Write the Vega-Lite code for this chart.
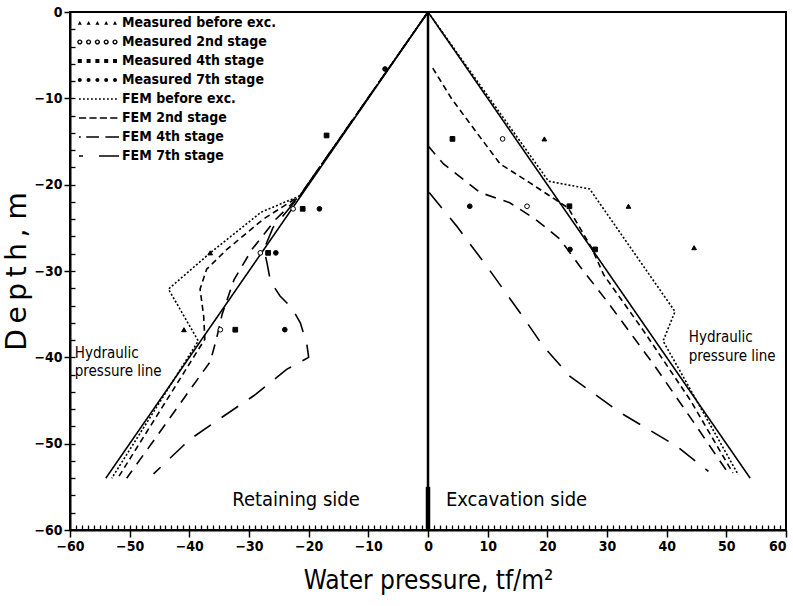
{
  "$schema": "https://vega.github.io/schema/vega-lite/v6.json",
  "width": 716,
  "height": 518,
  "autosize": {"type": "none"},
  "padding": {"left": 70, "top": 12, "right": 7, "bottom": 76},
  "background": "white",
  "config": {
    "font": "DejaVu Sans Condensed, Liberation Sans, sans-serif",
    "view": {"stroke": "black", "strokeWidth": 2},
    "axis": {"domainColor": "black", "domainWidth": 2, "tickColor": "black", "tickWidth": 1.5, "labelColor": "black", "titleColor": "black", "grid": false, "zindex": 1}
  },
  "resolve": {
    "axis": {"x": "independent", "y": "independent"},
    "scale": {"shape": "independent"},
    "legend": {"shape": "independent"}
  },
  "datasets": {
    "fem": [
      {"series": "Hydraulic", "side": "L", "p": 0, "d": 0},
      {"series": "Hydraulic", "side": "L", "p": -54, "d": -54},
      {"series": "Hydraulic", "side": "R", "p": 0, "d": 0},
      {"series": "Hydraulic", "side": "R", "p": 54, "d": -54},

      {"series": "FEM before exc.", "side": "L", "p": 0, "d": 0},
      {"series": "FEM before exc.", "side": "L", "p": -21.5, "d": -21.3},
      {"series": "FEM before exc.", "side": "L", "p": -28, "d": -23.2},
      {"series": "FEM before exc.", "side": "L", "p": -36.5, "d": -27.9},
      {"series": "FEM before exc.", "side": "L", "p": -43.5, "d": -32.1},
      {"series": "FEM before exc.", "side": "L", "p": -38.5, "d": -38.1},
      {"series": "FEM before exc.", "side": "L", "p": -53, "d": -54},

      {"series": "FEM 2nd stage", "side": "L", "p": 0, "d": 0},
      {"series": "FEM 2nd stage", "side": "L", "p": -21.5, "d": -21.3},
      {"series": "FEM 2nd stage", "side": "L", "p": -27.6, "d": -24.0},
      {"series": "FEM 2nd stage", "side": "L", "p": -33.7, "d": -27.5},
      {"series": "FEM 2nd stage", "side": "L", "p": -37.1, "d": -29.8},
      {"series": "FEM 2nd stage", "side": "L", "p": -38.2, "d": -32.1},
      {"series": "FEM 2nd stage", "side": "L", "p": -37.6, "d": -35.2},
      {"series": "FEM 2nd stage", "side": "L", "p": -37.4, "d": -37.9},
      {"series": "FEM 2nd stage", "side": "L", "p": -52, "d": -54},

      {"series": "FEM 4th stage", "side": "L", "p": 0, "d": 0},
      {"series": "FEM 4th stage", "side": "L", "p": -21.5, "d": -21.3},
      {"series": "FEM 4th stage", "side": "L", "p": -25.5, "d": -24},
      {"series": "FEM 4th stage", "side": "L", "p": -29.5, "d": -27.5},
      {"series": "FEM 4th stage", "side": "L", "p": -32.5, "d": -31},
      {"series": "FEM 4th stage", "side": "L", "p": -34.5, "d": -35},
      {"series": "FEM 4th stage", "side": "L", "p": -35.5, "d": -38},
      {"series": "FEM 4th stage", "side": "L", "p": -36.5, "d": -40.5},
      {"series": "FEM 4th stage", "side": "L", "p": -50.5, "d": -54},

      {"series": "FEM 7th stage", "side": "L", "p": 0, "d": 0},
      {"series": "FEM 7th stage", "side": "L", "p": -21.5, "d": -21.3},
      {"series": "FEM 7th stage", "side": "L", "p": -26, "d": -25},
      {"series": "FEM 7th stage", "side": "L", "p": -27.5, "d": -27.5},
      {"series": "FEM 7th stage", "side": "L", "p": -27, "d": -29},
      {"series": "FEM 7th stage", "side": "L", "p": -26.4, "d": -31.2},
      {"series": "FEM 7th stage", "side": "L", "p": -24.8, "d": -32.9},
      {"series": "FEM 7th stage", "side": "L", "p": -22.8, "d": -34.3},
      {"series": "FEM 7th stage", "side": "L", "p": -21.4, "d": -36},
      {"series": "FEM 7th stage", "side": "L", "p": -20.3, "d": -38.5},
      {"series": "FEM 7th stage", "side": "L", "p": -20, "d": -40},
      {"series": "FEM 7th stage", "side": "L", "p": -23.7, "d": -41.4},
      {"series": "FEM 7th stage", "side": "L", "p": -28.9, "d": -44.3},
      {"series": "FEM 7th stage", "side": "L", "p": -35.5, "d": -47.4},
      {"series": "FEM 7th stage", "side": "L", "p": -39.9, "d": -49.5},
      {"series": "FEM 7th stage", "side": "L", "p": -46, "d": -53.5},

      {"series": "FEM before exc.", "side": "R", "p": 0, "d": 0},
      {"series": "FEM before exc.", "side": "R", "p": 20.2, "d": -19.6},
      {"series": "FEM before exc.", "side": "R", "p": 27.1, "d": -20.5},
      {"series": "FEM before exc.", "side": "R", "p": 41.4, "d": -34.7},
      {"series": "FEM before exc.", "side": "R", "p": 39.4, "d": -38.1},
      {"series": "FEM before exc.", "side": "R", "p": 52, "d": -53.6},

      {"series": "FEM 2nd stage", "side": "R", "p": 0.8, "d": -6.5},
      {"series": "FEM 2nd stage", "side": "R", "p": 4, "d": -10.1},
      {"series": "FEM 2nd stage", "side": "R", "p": 8.2, "d": -14},
      {"series": "FEM 2nd stage", "side": "R", "p": 12.1, "d": -17.6},
      {"series": "FEM 2nd stage", "side": "R", "p": 17.1, "d": -19.8},
      {"series": "FEM 2nd stage", "side": "R", "p": 23.5, "d": -22.7},
      {"series": "FEM 2nd stage", "side": "R", "p": 27.4, "d": -27.3},
      {"series": "FEM 2nd stage", "side": "R", "p": 29.5, "d": -30.5},
      {"series": "FEM 2nd stage", "side": "R", "p": 36, "d": -36.8},
      {"series": "FEM 2nd stage", "side": "R", "p": 44, "d": -45},
      {"series": "FEM 2nd stage", "side": "R", "p": 51.1, "d": -53.4},

      {"series": "FEM 4th stage", "side": "R", "p": 0, "d": -15.5},
      {"series": "FEM 4th stage", "side": "R", "p": 2.6, "d": -17.6},
      {"series": "FEM 4th stage", "side": "R", "p": 8.7, "d": -20.9},
      {"series": "FEM 4th stage", "side": "R", "p": 13.7, "d": -22.1},
      {"series": "FEM 4th stage", "side": "R", "p": 18, "d": -24},
      {"series": "FEM 4th stage", "side": "R", "p": 22.1, "d": -26.3},
      {"series": "FEM 4th stage", "side": "R", "p": 25.5, "d": -29.5},
      {"series": "FEM 4th stage", "side": "R", "p": 30, "d": -33.5},
      {"series": "FEM 4th stage", "side": "R", "p": 38, "d": -41},
      {"series": "FEM 4th stage", "side": "R", "p": 45, "d": -48},
      {"series": "FEM 4th stage", "side": "R", "p": 50.2, "d": -53.3},

      {"series": "FEM 7th stage", "side": "R", "p": 0.2, "d": -20.9},
      {"series": "FEM 7th stage", "side": "R", "p": 4.8, "d": -24.8},
      {"series": "FEM 7th stage", "side": "R", "p": 9.8, "d": -29.4},
      {"series": "FEM 7th stage", "side": "R", "p": 15.4, "d": -34.8},
      {"series": "FEM 7th stage", "side": "R", "p": 19.3, "d": -38.7},
      {"series": "FEM 7th stage", "side": "R", "p": 23.8, "d": -42.2},
      {"series": "FEM 7th stage", "side": "R", "p": 32.2, "d": -46.4},
      {"series": "FEM 7th stage", "side": "R", "p": 41.7, "d": -50.3},
      {"series": "FEM 7th stage", "side": "R", "p": 47, "d": -53.2}
    ],
    "meas": [
      {"series": "Measured before exc.", "p": -36.5, "d": -27.9},
      {"series": "Measured before exc.", "p": -40.9, "d": -36.8},
      {"series": "Measured before exc.", "p": 19.5, "d": -14.7},
      {"series": "Measured before exc.", "p": 33.6, "d": -22.5},
      {"series": "Measured before exc.", "p": 44.6, "d": -27.3},
      {"series": "Measured 2nd stage", "p": -22.6, "d": -22.8},
      {"series": "Measured 2nd stage", "p": -28.1, "d": -27.9},
      {"series": "Measured 2nd stage", "p": -34.8, "d": -36.8},
      {"series": "Measured 2nd stage", "p": 12.5, "d": -14.7},
      {"series": "Measured 2nd stage", "p": 16.6, "d": -22.5},
      {"series": "Measured 4th stage", "p": -21.0, "d": -22.8},
      {"series": "Measured 4th stage", "p": -26.8, "d": -27.9},
      {"series": "Measured 4th stage", "p": -32.3, "d": -36.8},
      {"series": "Measured 4th stage", "p": -17.0, "d": -14.3},
      {"series": "Measured 4th stage", "p": 4.1, "d": -14.7},
      {"series": "Measured 4th stage", "p": 23.7, "d": -22.5},
      {"series": "Measured 4th stage", "p": 28.0, "d": -27.5},
      {"series": "Measured 7th stage", "p": -7.2, "d": -6.6},
      {"series": "Measured 7th stage", "p": -18.2, "d": -22.8},
      {"series": "Measured 7th stage", "p": -25.5, "d": -27.9},
      {"series": "Measured 7th stage", "p": -24.0, "d": -36.8},
      {"series": "Measured 7th stage", "p": 7.0, "d": -22.5},
      {"series": "Measured 7th stage", "p": 23.8, "d": -27.5}
    ],
    "keys": [
      {"series": "Measured before exc."},
      {"series": "Measured 2nd stage"},
      {"series": "Measured 4th stage"},
      {"series": "Measured 7th stage"},
      {"series": "FEM before exc."},
      {"series": "FEM 2nd stage"},
      {"series": "FEM 4th stage"},
      {"series": "FEM 7th stage"}
    ],
    "notes": [
      {"label": "Hydraulic", "p": -59.2, "d": -39.5},
      {"label": "pressure line", "p": -59.2, "d": -41.6},
      {"label": "Hydraulic", "p": 43.7, "d": -37.6},
      {"label": "pressure line", "p": 43.7, "d": -39.8}
    ],
    "sides": [
      {"label": "Retaining side", "p": -32.8, "d": -56.5},
      {"label": "Excavation side", "p": 3, "d": -56.5}
    ],
    "wall": [
      {"p": 0, "top": -55, "toe": -60}
    ]
  },
  "layer": [
    {
      "data": {"values": [{"p": 0}]},
      "mark": {"type": "rule", "color": "black", "strokeWidth": 2.5},
      "encoding": {
        "x": {"field": "p", "type": "quantitative", "axis": null}
      }
    },
    {
      "data": {"name": "wall"},
      "mark": {"type": "rule", "color": "black", "strokeWidth": 4.5},
      "encoding": {
        "x": {"field": "p", "type": "quantitative", "axis": null},
        "y": {"field": "top", "type": "quantitative", "axis": null},
        "y2": {"field": "toe"}
      }
    },
    {
      "data": {"name": "fem"},
      "mark": {"type": "line", "color": "black", "strokeWidth": 1.6},
      "encoding": {
        "x": {
          "field": "p",
          "type": "quantitative",
          "scale": {"domain": [-60, 60], "nice": false, "zero": false},
          "axis": {
            "orient": "bottom",
            "title": "Water pressure, tf/m²",
            "titleFont": "DejaVu Sans Condensed, Liberation Sans, sans-serif",
            "titleFontSize": 26,
            "titleFontWeight": "normal",
            "titlePadding": 14,
            "values": [-60, -50, -40, -30, -20, -10, 0, 10, 20, 30, 40, 50, 60],
            "labelFont": "DejaVu Sans Condensed, Liberation Sans, sans-serif",
            "labelFontSize": 14,
            "labelFontWeight": "bold",
            "labelOverlap": false,
            "labelFlush": false,
            "labelAlign": {"condition": {"test": "datum.value === 60", "value": "right"}, "value": "center"},
            "tickSize": 7,
            "labelPadding": 2
          }
        },
        "y": {
          "field": "d",
          "type": "quantitative",
          "scale": {"domain": [-60, 0], "nice": false, "zero": false},
          "axis": {
            "orient": "left",
            "title": "D\u2009e\u2009p\u2009t\u2009h\u2009,    m",
            "titleFont": "DejaVu Sans, sans-serif",
            "titleFontSize": 28,
            "titleFontWeight": "normal",
            "titlePadding": 2,
            "values": [-60, -50, -40, -30, -20, -10, 0],
            "labelFont": "DejaVu Sans Condensed, Liberation Sans, sans-serif",
            "labelFontSize": 14,
            "labelFontWeight": "bold",
            "labelOverlap": false,
            "labelFlush": false,
            "tickSize": 6,
            "labelPadding": 2
          }
        },
        "detail": {"field": "side"},
        "order": {"field": "d", "sort": "descending"},
        "strokeDash": {
          "field": "series",
          "type": "nominal",
          "scale": {
            "domain": ["Hydraulic", "FEM before exc.", "FEM 2nd stage", "FEM 4th stage", "FEM 7th stage"],
            "range": [[1, 0], [2, 2], [6, 4], [11, 8], [20, 13]]
          },
          "legend": null
        }
      }
    },
    {
      "data": {"name": "meas"},
      "mark": {"type": "point", "stroke": "black", "strokeWidth": 1, "opacity": 1, "size": 22},
      "encoding": {
        "x": {
          "field": "p",
          "type": "quantitative",
          "axis": {
            "orient": "bottom",
            "title": null,
            "domain": false,
            "labels": false,
            "tickSize": -5,
            "tickWidth": 1.3,
            "values": [-59,-58,-57,-56,-55,-54,-53,-52,-51,-50,-49,-48,-47,-46,-45,-44,-43,-42,-41,-40,-39,-38,-37,-36,-35,-34,-33,-32,-31,-30,-29,-28,-27,-26,-25,-24,-23,-22,-21,-20,-19,-18,-17,-16,-15,-14,-13,-12,-11,-10,-9,-8,-7,-6,-5,-4,-3,-2,-1,1,2,3,4,5,6,7,8,9,10,11,12,13,14,15,16,17,18,19,20,21,22,23,24,25,26,27,28,29,30,31,32,33,34,35,36,37,38,39,40,41,42,43,44,45,46,47,48,49,50,51,52,53,54,55,56,57,58,59]
          }
        },
        "y": {
          "field": "d",
          "type": "quantitative",
          "axis": {
            "orient": "left",
            "title": null,
            "domain": false,
            "labels": false,
            "tickSize": -5,
            "tickWidth": 1.3,
            "values": [-58,-56,-54,-52,-50,-48,-46,-44,-42,-40,-38,-36,-34,-32,-30,-28,-26,-24,-22,-20,-18,-16,-14,-12,-10,-8,-6,-4,-2]
          }
        },
        "fill": {
          "field": "series",
          "type": "nominal",
          "scale": {
            "domain": ["Measured before exc.", "Measured 2nd stage", "Measured 4th stage", "Measured 7th stage"],
            "range": ["black", "white", "black", "black"]
          },
          "legend": null
        },
        "shape": {
          "field": "series",
          "type": "nominal",
          "scale": {
            "domain": ["Measured before exc.", "Measured 2nd stage", "Measured 4th stage", "Measured 7th stage"],
            "range": ["triangle-up", "circle", "square", "circle"]
          },
          "legend": null
        }
      }
    },
    {
      "data": {"name": "keys"},
      "mark": {"type": "point", "opacity": 0, "filled": true, "fill": "black", "stroke": "black", "strokeWidth": 1.3},
      "encoding": {
        "shape": {
          "field": "series",
          "type": "nominal",
          "scale": {
            "domain": ["Measured before exc.", "Measured 2nd stage", "Measured 4th stage", "Measured 7th stage", "FEM before exc.", "FEM 2nd stage", "FEM 4th stage", "FEM 7th stage"],
            "range": [
              "M-0.8,0.45L-0.3,-0.5L0.2,0.45ZM1.4,0.45L1.9,-0.5L2.4,0.45ZM3.6,0.45L4.1,-0.5L4.6,0.45ZM5.8,0.45L6.3,-0.5L6.8,0.45ZM8,0.45L8.5,-0.5L9,0.45Z",
              "M-0.95,0A0.65,0.65,0,1,1,0.35,0A0.65,0.65,0,1,1,-0.95,0ZM-0.6,0A0.3,0.3,0,1,0,0,0A0.3,0.3,0,1,0,-0.6,0ZM1.25,0A0.65,0.65,0,1,1,2.55,0A0.65,0.65,0,1,1,1.25,0ZM1.6,0A0.3,0.3,0,1,0,2.2,0A0.3,0.3,0,1,0,1.6,0ZM3.45,0A0.65,0.65,0,1,1,4.75,0A0.65,0.65,0,1,1,3.45,0ZM3.8,0A0.3,0.3,0,1,0,4.4,0A0.3,0.3,0,1,0,3.8,0ZM5.65,0A0.65,0.65,0,1,1,6.95,0A0.65,0.65,0,1,1,5.65,0ZM6,0A0.3,0.3,0,1,0,6.6,0A0.3,0.3,0,1,0,6,0ZM7.85,0A0.65,0.65,0,1,1,9.15,0A0.65,0.65,0,1,1,7.85,0ZM8.2,0A0.3,0.3,0,1,0,8.8,0A0.3,0.3,0,1,0,8.2,0Z",
              "M-0.8,-0.5h1v1h-1ZM1.4,-0.5h1v1h-1ZM3.6,-0.5h1v1h-1ZM5.8,-0.5h1v1h-1ZM8,-0.5h1v1h-1Z",
              "M-0.8,0A0.5,0.5,0,1,1,0.2,0A0.5,0.5,0,1,1,-0.8,0ZM1.4,0A0.5,0.5,0,1,1,2.4,0A0.5,0.5,0,1,1,1.4,0ZM3.6,0A0.5,0.5,0,1,1,4.6,0A0.5,0.5,0,1,1,3.6,0ZM5.8,0A0.5,0.5,0,1,1,6.8,0A0.5,0.5,0,1,1,5.8,0ZM8,0A0.5,0.5,0,1,1,9,0A0.5,0.5,0,1,1,8,0Z",
              "M-0.5,-0.18h0.45v0.36h-0.45ZM0.5,-0.18h0.45v0.36h-0.45ZM1.5,-0.18h0.45v0.36h-0.45ZM2.5,-0.18h0.45v0.36h-0.45ZM3.5,-0.18h0.45v0.36h-0.45ZM4.5,-0.18h0.45v0.36h-0.45ZM5.5,-0.18h0.45v0.36h-0.45ZM6.5,-0.18h0.45v0.36h-0.45ZM7.5,-0.18h0.45v0.36h-0.45ZM8.5,-0.18h0.45v0.36h-0.45Z",
              "M-0.5,-0.2h1.8v0.4h-1.8ZM2.1,-0.2h1.8v0.4h-1.8ZM4.7,-0.2h1.8v0.4h-1.8ZM7.3,-0.2h1.8v0.4h-1.8Z",
              "M-0.5,-0.2h0.45v0.4h-0.45ZM1.3,-0.2h3.2v0.4h-3.2ZM6.1,-0.2h3.4v0.4h-3.4Z",
              "M-0.5,-0.2h1v0.4h-1ZM4.5,-0.2h5v0.4h-5Z"
            ]
          },
          "legend": {
            "title": null,
            "orient": "top-left",
            "offset": 4,
            "padding": 0,
            "rowPadding": 5,
            "symbolSize": 64,
            "labelOffset": 34,
            "labelFont": "DejaVu Sans Condensed, Liberation Sans, sans-serif",
            "labelFontSize": 14,
            "labelFontWeight": "bold",
            "labelColor": "black",
            "labelLimit": 300,
            "symbolOpacity": 1,
            "symbolFillColor": "black",
            "symbolStrokeColor": "black",
            "symbolStrokeWidth": 1.3
          }
        }
      }
    },
    {
      "data": {"name": "notes"},
      "mark": {"type": "text", "align": "left", "baseline": "middle", "font": "DejaVu Sans Condensed, Liberation Sans, sans-serif", "fontSize": 15, "color": "black"},
      "encoding": {
        "x": {"field": "p", "type": "quantitative", "axis": null},
        "y": {"field": "d", "type": "quantitative", "axis": null},
        "text": {"field": "label"}
      }
    },
    {
      "data": {"name": "sides"},
      "mark": {"type": "text", "align": "left", "baseline": "middle", "font": "DejaVu Sans Condensed, Liberation Sans, sans-serif", "fontSize": 20, "color": "black"},
      "encoding": {
        "x": {"field": "p", "type": "quantitative", "axis": null},
        "y": {"field": "d", "type": "quantitative", "axis": null},
        "text": {"field": "label"}
      }
    }
  ]
}
